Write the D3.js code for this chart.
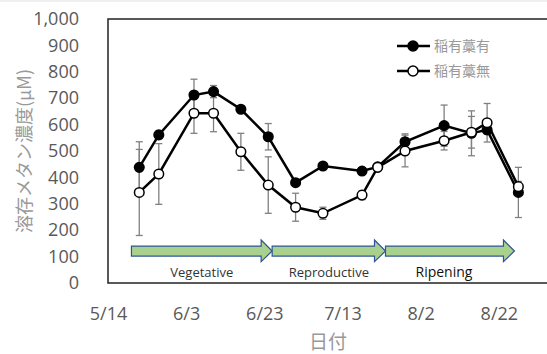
<!DOCTYPE html>
<html>
<head>
<meta charset="utf-8">
<script src="https://cdn.jsdelivr.net/npm/d3@7"></script>
<style>
  body { margin: 0; background: #fff; }
  svg { display: block; }
</style>
</head>
<body>
<div id="chart"></div>
<script>
// sampling dates and methane concentrations (µM)
const dates = ['5/22', '5/27', '6/5', '6/10', '6/17', '6/24', '7/1', '7/8', '7/18', '7/22', '7/29', '8/8', '8/15', '8/19', '8/27'];
const withStraw = [438, 561, 712, 725, 658, 554, 380, 443, 424, 440, 535, 596, 567, 580, 343];
const withStrawErr = [97, 15, 60, 23, 12, 50, 12, 8, 8, 10, 30, 78, 85, 15, 95];
const noStraw = [343, 413, 643, 643, 497, 371, 287, 264, 333, 438, 500, 539, 571, 607, 365];
const noStrawErr = [163, 115, 76, 70, 70, 107, 53, 23, 17, 10, 60, 35, 60, 73, 20];
const seriesNames = ['稲有藁有', '稲有藁無'];

const xTickLabels = ['5/14', '6/3', '6/23', '7/13', '8/2', '8/22'];
const yTicks = [0, 100, 200, 300, 400, 500, 600, 700, 800, 900, 1000];

// growth stages: start, end
const stageNames = ['Vegetative', 'Reproductive', 'Ripening'];
const stageStart = ['5/20', '6/25', '7/24'];
const stageEnd = ['6/25', '7/24', '8/26'];

const parse = s => { const [m, d] = s.split('/').map(Number); return new Date(2019, m - 1, d); };

const width = 547, height = 354;
const svg = d3.select('#chart').append('svg')
  .attr('width', width)
  .attr('height', height);

svg.append('rect').attr('x', 0).attr('y', 0).attr('width', width).attr('height', 2).attr('fill', '#efefef');

const x = d3.scaleTime()
  .domain([parse('5/14'), parse('9/11')])
  .range([108, 577]);
const y = d3.scaleLinear()
  .domain([0, 1000])
  .range([283, 19]);

const labelFont = '"Open Sans", "Noto Sans", sans-serif';
const cjkFont = '"Noto Sans CJK JP", sans-serif';

// plot frame
svg.append('rect')
  .attr('x', x.range()[0]).attr('y', y(1000))
  .attr('width', x.range()[1] - x.range()[0])
  .attr('height', y(0) - y(1000))
  .attr('fill', 'none')
  .attr('stroke', '#222')
  .attr('stroke-width', 1.5);

// y axis
const yAxis = svg.append('g')
  .attr('transform', `translate(${x.range()[0] - 26},0)`)
  .call(d3.axisLeft(y).tickValues(yTicks).tickSize(0).tickFormat(d3.format(',')));
yAxis.select('.domain').remove();
yAxis.selectAll('text')
  .attr('fill', '#595959')
  .style('font-family', labelFont)
  .style('font-size', '18px');

// x axis
const xAxis = svg.append('g')
  .attr('transform', `translate(0,${y(0) + 21})`)
  .call(d3.axisBottom(x).tickValues(xTickLabels.map(parse)).tickSize(0).tickFormat(d3.timeFormat('%-m/%-d')));
xAxis.select('.domain').remove();
xAxis.selectAll('text')
  .attr('fill', '#595959')
  .style('font-family', labelFont)
  .style('font-size', '18px');

// axis titles
svg.append('text')
  .attr('transform', `translate(31,${(y(0) + y(1000)) / 2})rotate(-90)`)
  .attr('text-anchor', 'middle')
  .attr('fill', '#999')
  .style('font-family', cjkFont)
  .style('font-size', '18px')
  .text('溶存メタン濃度(μM)');

svg.append('text')
  .attr('x', 328).attr('y', 349)
  .attr('text-anchor', 'middle')
  .attr('fill', '#999')
  .style('font-family', cjkFont)
  .style('font-size', '19px')
  .text('日付');

// stage arrows
const arrowBody = [102, 140], arrowHead = [81, 163], headLen = 11;
stageNames.forEach((name, i) => {
  const x0 = x(parse(stageStart[i])), x1 = x(parse(stageEnd[i]));
  const pts = [
    [x0, y(arrowBody[1])], [x1 - headLen, y(arrowBody[1])], [x1 - headLen, y(arrowHead[1])],
    [x1, y((arrowBody[0] + arrowBody[1]) / 2)],
    [x1 - headLen, y(arrowHead[0])], [x1 - headLen, y(arrowBody[0])], [x0, y(arrowBody[0])]
  ];
  svg.append('path')
    .attr('d', d3.line()(pts) + 'Z')
    .attr('fill', '#a9d18e')
    .attr('stroke', '#2f5597')
    .attr('stroke-width', 1.2);
  svg.append('text')
    .attr('x', (x0 + x1) / 2 - (i === 2 ? 6 : 0))
    .attr('y', 277)
    .attr('text-anchor', 'middle')
    .attr('fill', i === 2 ? '#111' : '#333')
    .style('font-family', labelFont)
    .style('font-size', i === 2 ? '14px' : '13px')
    .text(name);
});

const series = [
  { vals: withStraw, err: withStrawErr, fill: '#000' },
  { vals: noStraw, err: noStrawErr, fill: '#fff' }
];

// error bars
series.forEach(s => {
  const g = svg.append('g').attr('stroke', '#808080').attr('stroke-width', 1.3);
  dates.forEach((d, i) => {
    const cx = x(parse(d));
    const lo = y(s.vals[i] - s.err[i]), hi = y(s.vals[i] + s.err[i]);
    g.append('line').attr('x1', cx).attr('x2', cx).attr('y1', lo).attr('y2', hi);
    g.append('line').attr('x1', cx - 3.5).attr('x2', cx + 3.5).attr('y1', lo).attr('y2', lo);
    g.append('line').attr('x1', cx - 3.5).attr('x2', cx + 3.5).attr('y1', hi).attr('y2', hi);
  });
});

// lines and markers
const line = d3.line()
  .x((d, i) => x(parse(dates[i])))
  .y(d => y(d));

series.forEach(s => {
  svg.append('path')
    .datum(s.vals)
    .attr('fill', 'none')
    .attr('stroke', '#000')
    .attr('stroke-width', 2.5)
    .attr('d', line);
  svg.selectAll(null)
    .data(s.vals)
    .join('circle')
    .attr('cx', (d, i) => x(parse(dates[i])))
    .attr('cy', d => y(d))
    .attr('r', 4.8)
    .attr('fill', s.fill)
    .attr('stroke', '#000')
    .attr('stroke-width', 1.5);
});

// legend
seriesNames.forEach((name, i) => {
  const ly = 46 + i * 25;
  svg.append('line')
    .attr('x1', 397).attr('x2', 430).attr('y1', ly).attr('y2', ly)
    .attr('stroke', '#000').attr('stroke-width', 2.5);
  svg.append('circle')
    .attr('cx', 413).attr('cy', ly).attr('r', 5)
    .attr('fill', series[i].fill)
    .attr('stroke', '#000').attr('stroke-width', 1.5);
  svg.append('text')
    .attr('x', 434).attr('y', ly + 5)
    .attr('fill', '#999')
    .style('font-family', cjkFont)
    .style('font-size', '14px')
    .text(name);
});
</script>
</body>
</html>
